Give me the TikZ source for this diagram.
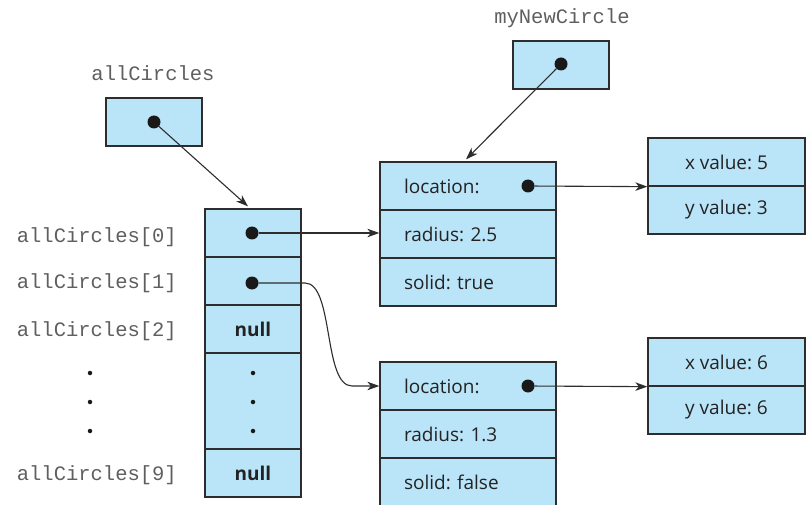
\documentclass[tikz,border=0pt]{standalone}
\usepackage{fontspec}
\setmainfont{Open Sans}
\setmonofont{Liberation Mono}
\usetikzlibrary{arrows.meta,calc}
\definecolor{boxblue}{RGB}{186,228,248}
\definecolor{edgec}{RGB}{45,45,45}
\definecolor{monogray}{RGB}{95,95,95}
\definecolor{txt}{RGB}{35,35,35}
\frenchspacing
\begin{document}
\begin{tikzpicture}[x=1pt,y=-1pt,
  cell/.style={draw=edgec,fill=boxblue,line width=1.3pt,minimum width=96pt,minimum height=48pt,inner sep=0pt,text=txt,font=\fontsize{19}{21}\selectfont},
  objcell/.style={cell,minimum width=176pt,text width=128pt,align=left,inner xsep=24pt},
  xycell/.style={cell,minimum width=157pt},
  dot/.style={circle,fill=black!90,inner sep=0pt,minimum size=13pt},
  sdot/.style={circle,fill=black!90,inner sep=0pt,minimum size=4.5pt},
  monolabel/.style={text=monogray,inner sep=0pt,font=\ttfamily\fontsize{20.5}{22}\selectfont},
  conn/.style={draw=edgec,line width=1.1pt,-{Stealth[length=12pt,width=8.5pt,inset=3.5pt]}}
]
\useasboundingbox (0,0) rectangle (806,505);
\clip (0,0) rectangle (806,505);

% allCircles variable
\node[monolabel] (lblac) at (153,73) {allCircles};
\node[cell] (acbox) at (154,122) {};
\node[dot] (acdot) at (154,122) {};

% myNewCircle variable
\node[monolabel] (lblmn) at (562,18) {myNewCircle};
\node[cell] (mnbox) at (561,65) {};
\node[dot] (mndot) at (561,64) {};

% array
\node[cell] (a0) at (253,233) {};
\node[cell] (a1) at (253,281) {};
\node[cell] (a2) at (253,329) {\bfseries null};
\node[cell,minimum height=96pt] (ad) at (253,401) {};
\node[cell] (a9) at (253,473) {\bfseries null};
\node[dot] (a0d) at (252,233) {};
\node[dot] (a1d) at (252,283) {};
\node[sdot] (ad1) at (253,373) {};
\node[sdot] (ad2) at (253,402) {};
\node[sdot] (ad3) at (253,431) {};

% array labels
\node[monolabel,anchor=east] (l0) at (177,237) {allCircles[0]};
\node[monolabel,anchor=east] (l1) at (177,283) {allCircles[1]};
\node[monolabel,anchor=east] (l2) at (177,331) {allCircles[2]};
\node[monolabel,anchor=east] (l9) at (177,475) {allCircles[9]};
\node[sdot] (ld1) at (90,373) {};
\node[sdot] (ld2) at (90,402) {};
\node[sdot] (ld3) at (90,431) {};

% object 1
\node[objcell] (o1loc) at (468,186) {location:};
\node[objcell] (o1rad) at (468,234) {radius: 2.5};
\node[objcell] (o1sol) at (468,282) {solid: true};
\node[dot] (o1d) at (528,186) {};

% object 2
\node[objcell] (o2loc) at (468,386) {location:};
\node[objcell] (o2rad) at (468,434) {radius: 1.3};
\node[objcell] (o2sol) at (468,482) {solid: false};
\node[dot] (o2d) at (528,386) {};

% points
\node[xycell] (p1x) at (726.5,162) {x value: 5};
\node[xycell] (p1y) at (726.5,210) {y value: 3};
\node[xycell] (p2x) at (726.5,362) {x value: 6};
\node[xycell] (p2y) at (726.5,410) {y value: 6};

% connectors
\draw[conn] (acdot) -- ([xshift=-5pt,yshift=2pt]a0.north);
\draw[conn] (mndot) -- ([xshift=-2pt,yshift=2pt]o1loc.north);
\draw[conn] (a0d) -- (a0d -| o1rad.west);
\draw[conn] (o1d) -- (p1x.south west);
\draw[conn] (o2d) -- (p2x.south west);
\coordinate (bend1) at (305,283);
\coordinate (bend2) at (352,386);
\draw[conn] (a1d) -- (bend1) .. controls (334,283) and (323,386) .. (bend2) -- (o2loc.west);
\end{tikzpicture}
\end{document}
